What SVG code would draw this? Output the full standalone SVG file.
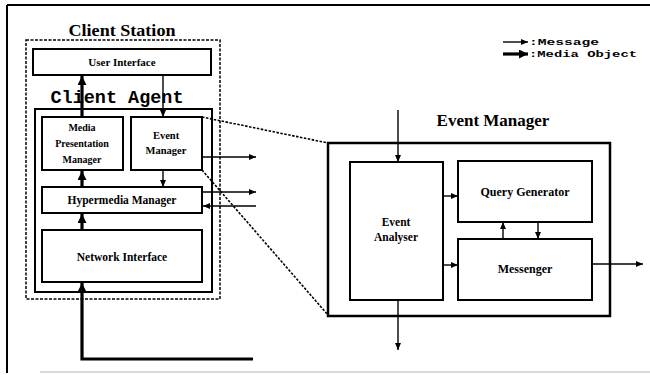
<svg xmlns="http://www.w3.org/2000/svg" width="650" height="375" viewBox="0 0 650 375">
<style>
.box{fill:#fff;stroke:#000;stroke-width:2}
.t{font-family:"Liberation Serif","Times New Roman",serif;font-weight:bold;fill:#000;text-anchor:middle}
.m{font-family:"Liberation Mono","Courier New",monospace;font-weight:bold;fill:#000}
.msg{stroke:#000;stroke-width:1.4;fill:none;marker-end:url(#ah)}
.med{stroke:#000;stroke-width:3.2;fill:none;marker-end:url(#ahb)}
.dot{stroke:#000;stroke-width:1.6;stroke-dasharray:2.5,1.5;fill:none}
</style>
<defs>
<marker id="ah" markerUnits="userSpaceOnUse" markerWidth="7" markerHeight="6" refX="7" refY="3" orient="auto"><path d="M0,0 L7,3 L0,6 z" fill="#000"/></marker>
<marker id="ahb" markerUnits="userSpaceOnUse" markerWidth="9" markerHeight="9" refX="9" refY="4.5" orient="auto"><path d="M0,0 L9,4.5 L0,9 z" fill="#000"/></marker>
</defs>
<rect width="650" height="375" fill="#fff"/>
<g id="frame">
<line x1="7" y1="5" x2="650" y2="5" stroke="#000" stroke-width="2"/>
<line x1="7" y1="5" x2="7" y2="373" stroke="#000" stroke-width="2"/>
<line x1="40" y1="372" x2="650" y2="372" stroke="#ccc" stroke-width="1.5"/>
</g>
<g id="legend">
<line x1="503" y1="42" x2="528" y2="42" class="msg"/>
<text x="529" y="45" class="m" font-size="9" textLength="70" lengthAdjust="spacingAndGlyphs">:Message</text>
<line x1="503" y1="54" x2="528" y2="54" class="med"/>
<text x="529" y="57" class="m" font-size="9" textLength="108" lengthAdjust="spacingAndGlyphs">:Media Object</text>
</g>
<g id="client-station">
<rect x="26" y="40" width="194" height="259" fill="none" stroke="#000" stroke-width="1.5" stroke-dasharray="3,1.5"/>
<text x="122" y="36" class="t" font-size="17" textLength="107" lengthAdjust="spacingAndGlyphs">Client Station</text>
</g>
<g id="user-interface">
<rect x="33" y="49" width="178" height="26" class="box"/>
<text x="122" y="66" class="t" font-size="11">User Interface</text>
</g>
<g id="client-agent">
<rect x="35" y="109" width="177" height="183" fill="none" stroke="#000" stroke-width="2"/>
<text x="117" y="103" class="m" font-size="18" text-anchor="middle" textLength="133" lengthAdjust="spacingAndGlyphs">Client Agent</text>
</g>
<g id="media-presentation-manager">
<rect x="42" y="117" width="81" height="53" class="box"/>
<text x="82" y="131" class="t" font-size="10">Media</text>
<text x="82" y="147" class="t" font-size="10">Presentation</text>
<text x="82" y="163" class="t" font-size="10">Manager</text>
</g>
<g id="event-manager-small">
<rect x="131" y="117" width="71" height="53" class="box"/>
<text x="166" y="139" class="t" font-size="10.5">Event</text>
<text x="166" y="154" class="t" font-size="10.5">Manager</text>
</g>
<g id="hypermedia-manager">
<rect x="42" y="187" width="160" height="26" class="box"/>
<text x="122" y="204" class="t" font-size="11.5">Hypermedia Manager</text>
</g>
<g id="network-interface">
<rect x="42" y="230" width="160" height="52" class="box"/>
<text x="122" y="261" class="t" font-size="11.5">Network Interface</text>
</g>
<g id="event-manager">
<rect x="328" y="143" width="282" height="173" fill="none" stroke="#000" stroke-width="2.5"/>
<text x="493" y="126" class="t" font-size="17">Event Manager</text>
</g>
<g id="event-analyser">
<rect x="350" y="162" width="93" height="138" class="box"/>
<text x="396" y="226" class="t" font-size="11.5">Event</text>
<text x="396" y="241" class="t" font-size="11.5">Analyser</text>
</g>
<g id="query-generator">
<rect x="458" y="161" width="134" height="61" class="box"/>
<text x="525" y="196" class="t" font-size="12">Query Generator</text>
</g>
<g id="messenger">
<rect x="458" y="239" width="134" height="61" class="box"/>
<text x="525" y="273" class="t" font-size="12">Messenger</text>
</g>
<g id="connectors">
<line x1="82" y1="117" x2="82" y2="76" class="med"/>
<line x1="163" y1="75" x2="163" y2="117" class="msg"/>
<line x1="82" y1="187" x2="82" y2="171" class="med"/>
<line x1="163" y1="171" x2="163" y2="187" class="msg"/>
<line x1="82" y1="230" x2="82" y2="214" class="med"/>
<polyline points="253,359 82,359 82,283" class="med"/>
<line x1="202" y1="157" x2="256" y2="157" class="msg"/>
<line x1="202" y1="192" x2="256" y2="192" class="msg"/>
<line x1="256" y1="206" x2="203" y2="206" class="msg"/>
<line x1="202" y1="117" x2="328" y2="143" class="dot"/>
<line x1="202" y1="170" x2="328" y2="315" class="dot"/>
<line x1="398" y1="110" x2="398" y2="162" class="msg"/>
<line x1="443" y1="196" x2="458" y2="196" class="msg"/>
<line x1="443" y1="265" x2="458" y2="265" class="msg"/>
<line x1="503" y1="239" x2="503" y2="222" class="msg"/>
<line x1="538" y1="222" x2="538" y2="239" class="msg"/>
<line x1="592" y1="264" x2="643" y2="264" class="msg"/>
<line x1="398" y1="300" x2="398" y2="350" class="msg"/>
</g>
</svg>
